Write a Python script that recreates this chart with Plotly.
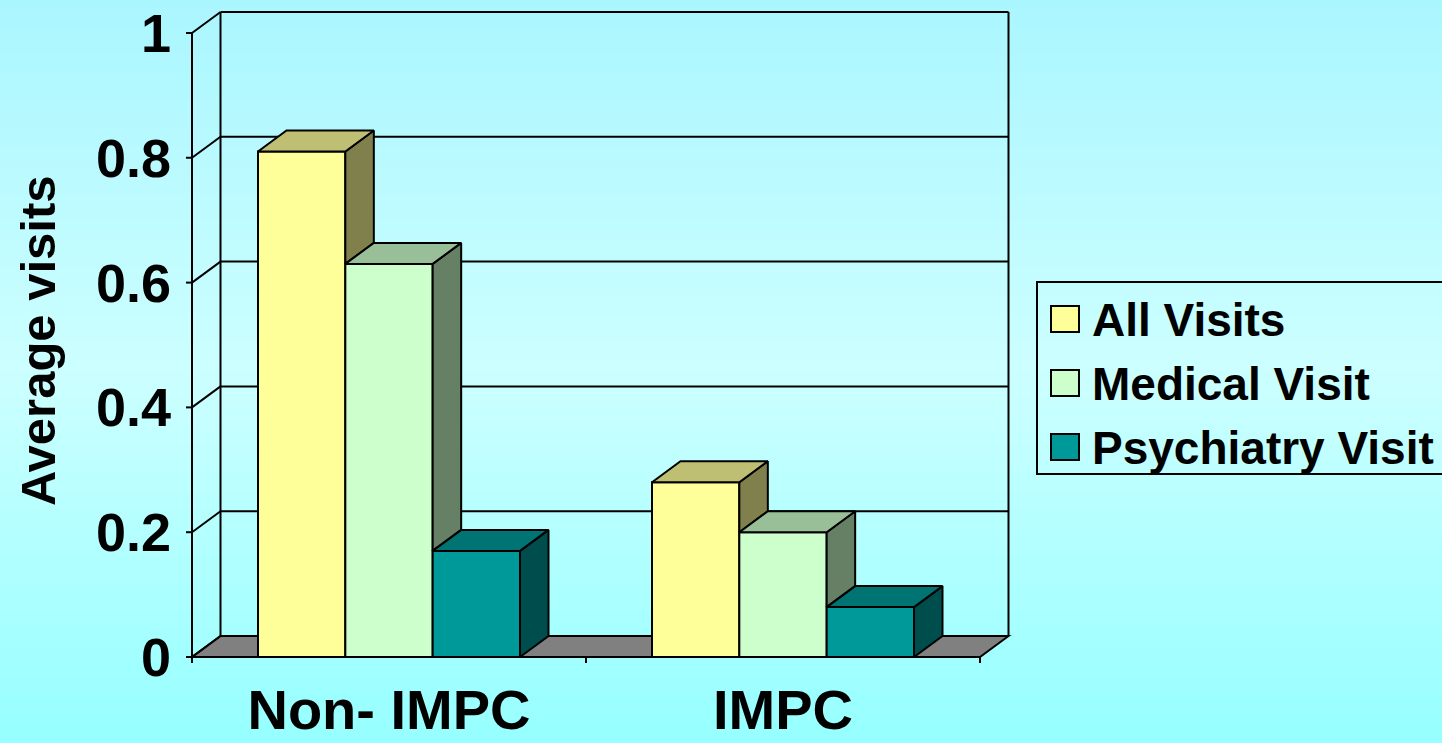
import plotly.graph_objects as go

# ---------------- data ----------------
categories = ["Non- IMPC", "IMPC"]
series_names = ["All Visits", "Medical Visit", "Psychiatry Visit"]
all_visits = [0.81, 0.28]
medical_visit = [0.63, 0.20]
psychiatry_visit = [0.17, 0.08]
y_tick_values = [0, 0.2, 0.4, 0.6, 0.8, 1]
y_tick_labels = ["0", "0.2", "0.4", "0.6", "0.8", "1"]
y_title = "Average visits"

series_values = [all_visits, medical_visit, psychiatry_visit]
front_colors = ["#ffff99", "#ccffcc", "#009999"]
top_colors = ["#bfbf73", "#99bf99", "#007373"]
side_colors = ["#80804d", "#668066", "#004d4d"]

# ---------------- geometry ----------------
W, H = 1442, 743
UX = 394.0          # px per category unit
UY = 624.0          # px per value unit
X_FRONT0_PX = 192   # pixel of x=-0.5
Y_ZERO_PX = 657     # pixel of y=0
DX = 28.5 / UX      # depth offset in data units
DY = 21.0 / UY
PAD_L, PAD_B, PAD_R, PAD_T = 6, 6, 4, 4

xr = [-0.5 - PAD_L / UX, 1.5 + DX + PAD_R / UX]
yr = [-PAD_B / UY, 1 + DY + PAD_T / UY]
left_px = X_FRONT0_PX - PAD_L
right_px = left_px + (xr[1] - xr[0]) * UX
bottom_px = Y_ZERO_PX + PAD_B
top_px = bottom_px - (yr[1] - yr[0]) * UY

GROUP = 0.665
n = len(series_values)
w = GROUP / n
offsets = [-GROUP / 2 + k * w for k in range(n)]
xcat = list(range(len(categories)))

FONT = "Liberation Sans, Arial, sans-serif"

fig = go.Figure()

# front faces (bars)
for k in range(n):
    fig.add_trace(go.Bar(
        x=xcat, y=series_values[k], width=w, offset=offsets[k],
        name=series_names[k],
        marker=dict(color=front_colors[k], line=dict(color="black", width=2)),
        showlegend=False, hoverinfo="y+name",
    ))

# top and side faces
for k in range(n):
    tx, ty, sx, sy = [], [], [], []
    for i, c in enumerate(xcat):
        v = series_values[k][i]
        x0 = c + offsets[k]
        x1 = x0 + w
        tx += [x0, x0 + DX, x1 + DX, x1, x0, None]
        ty += [v, v + DY, v + DY, v, v, None]
        if k < n - 1:
            vn = series_values[k + 1][i]
            if v > vn:
                sx += [x1, x1, x1 + DX, x1 + DX, x1, None]
                sy += [vn, v, v + DY, vn + DY, vn, None]
        else:
            sx += [x1, x1, x1 + DX, x1 + DX, x1, None]
            sy += [0, v, v + DY, DY, 0, None]
    if sx:
        fig.add_trace(go.Scatter(x=sx, y=sy, mode="lines", fill="toself",
                                 fillcolor=side_colors[k],
                                 line=dict(color="black", width=2),
                                 showlegend=False, hoverinfo="skip"))
    fig.add_trace(go.Scatter(x=tx, y=ty, mode="lines", fill="toself",
                             fillcolor=top_colors[k],
                             line=dict(color="black", width=2),
                             showlegend=False, hoverinfo="skip"))

shapes = []

# background gradient strips
def lerp(a, b, t):
    return tuple(int(round(a[j] + (b[j] - a[j]) * t)) for j in range(3))

stops = [(0.0, (170, 246, 255)), (0.5, (204, 255, 255)), (1.0, (150, 255, 255))]
NS = 80
for s in range(NS):
    t = (s + 0.5) / NS
    for (p0, c0), (p1, c1) in zip(stops[:-1], stops[1:]):
        if p0 <= t <= p1:
            col = lerp(c0, c1, (t - p0) / (p1 - p0))
            break
    shapes.append(dict(type="rect", xref="paper", yref="paper", layer="below",
                       x0=0, x1=1, y0=1 - (s + 1) / NS - 0.002, y1=1 - s / NS + 0.002,
                       line=dict(width=0), fillcolor="rgb(%d,%d,%d)" % col))

LINE = dict(color="black", width=2)
xa, xb = -0.5, 1.5
# floor
shapes.append(dict(type="path", xref="x", yref="y", layer="below",
                   path=f"M{xa},0 L{xb},0 L{xb+DX},{DY} L{xa+DX},{DY} Z",
                   fillcolor="#808080", line=LINE))
# back wall grid + left wall diagonals
for v in y_tick_values:
    shapes.append(dict(type="line", xref="x", yref="y", layer="below",
                       x0=xa + DX, x1=xb + DX, y0=v + DY, y1=v + DY, line=LINE))
    shapes.append(dict(type="line", xref="x", yref="y", layer="below",
                       x0=xa, x1=xa + DX, y0=v, y1=v + DY, line=LINE))
    # y tick marks
    shapes.append(dict(type="line", xref="x", yref="y", layer="below",
                       xsizemode="pixel", xanchor=xa, x0=-7, x1=0,
                       y0=v, y1=v, line=LINE))
# wall edges and axes
shapes.append(dict(type="line", xref="x", yref="y", layer="below",
                   x0=xa + DX, x1=xa + DX, y0=DY, y1=1 + DY, line=LINE))
shapes.append(dict(type="line", xref="x", yref="y", layer="below",
                   x0=xb + DX, x1=xb + DX, y0=DY, y1=1 + DY, line=LINE))
shapes.append(dict(type="line", xref="x", yref="y", layer="below",
                   x0=xa, x1=xa, y0=0, y1=1, line=LINE))
shapes.append(dict(type="line", xref="x", yref="y", layer="below",
                   x0=xa, x1=xb, y0=0, y1=0, line=LINE))
# x tick marks at category boundaries
for xb_ in [xa, 0.5, xb]:
    shapes.append(dict(type="line", xref="x", yref="y", layer="below",
                       ysizemode="pixel", yanchor=0, y0=-10, y1=0,
                       x0=xb_, x1=xb_, line=LINE))

# legend (drawn)
def px_x(p):
    return p / W

def px_y(p):
    return (H - p) / H

shapes.append(dict(type="rect", xref="paper", yref="paper", layer="above",
                   x0=px_x(1037), x1=px_x(1460), y0=px_y(474), y1=px_y(282),
                   line=dict(color="black", width=2), fillcolor="rgba(0,0,0,0)"))
annotations = []
row_centers = [319, 383, 447]
for k in range(n):
    yc = row_centers[k]
    shapes.append(dict(type="rect", xref="paper", yref="paper", layer="above",
                       x0=px_x(1051), x1=px_x(1079), y0=px_y(yc + 13), y1=px_y(yc - 13),
                       line=dict(color="black", width=2), fillcolor=front_colors[k]))
    annotations.append(dict(xref="paper", yref="paper", x=px_x(1090), y=px_y(yc + 1),
                            xanchor="left", yanchor="middle", showarrow=False,
                            text=series_names[k],
                            font=dict(family=FONT, size=46, color="black", weight="bold")))

# y axis title
annotations.append(dict(xref="paper", yref="paper", x=px_x(38), y=px_y(341),
                        xanchor="center", yanchor="middle", showarrow=False,
                        textangle=-90, text=y_title,
                        font=dict(family=FONT, size=49, color="black", weight="bold")))

fig.update_layout(
    width=W, height=H,
    margin=dict(l=0, r=0, t=0, b=0, autoexpand=False),
    paper_bgcolor="#c0ffff",
    plot_bgcolor="rgba(0,0,0,0)",
    barmode="overlay",
    showlegend=False,
    shapes=shapes,
    annotations=annotations,
    xaxis=dict(domain=[left_px / W, right_px / W], range=xr, automargin=False,
               tickvals=xcat, ticktext=categories, ticks="",
               showgrid=False, zeroline=False, showline=False,
               ticklabelstandoff=9,
               tickfont=dict(family=FONT, size=56, color="black", weight="bold")),
    yaxis=dict(domain=[(H - bottom_px) / H, (H - top_px) / H], range=yr, automargin=False,
               tickvals=y_tick_values, ticktext=y_tick_labels, ticks="",
               showgrid=False, zeroline=False, showline=False,
               ticklabelstandoff=14,
               tickfont=dict(family=FONT, size=54, color="black", weight="bold")),
)

fig.write_html("out.html", config={"displayModeBar": False},
               post_script="document.body.style.margin='0';document.body.style.overflow='hidden';")
